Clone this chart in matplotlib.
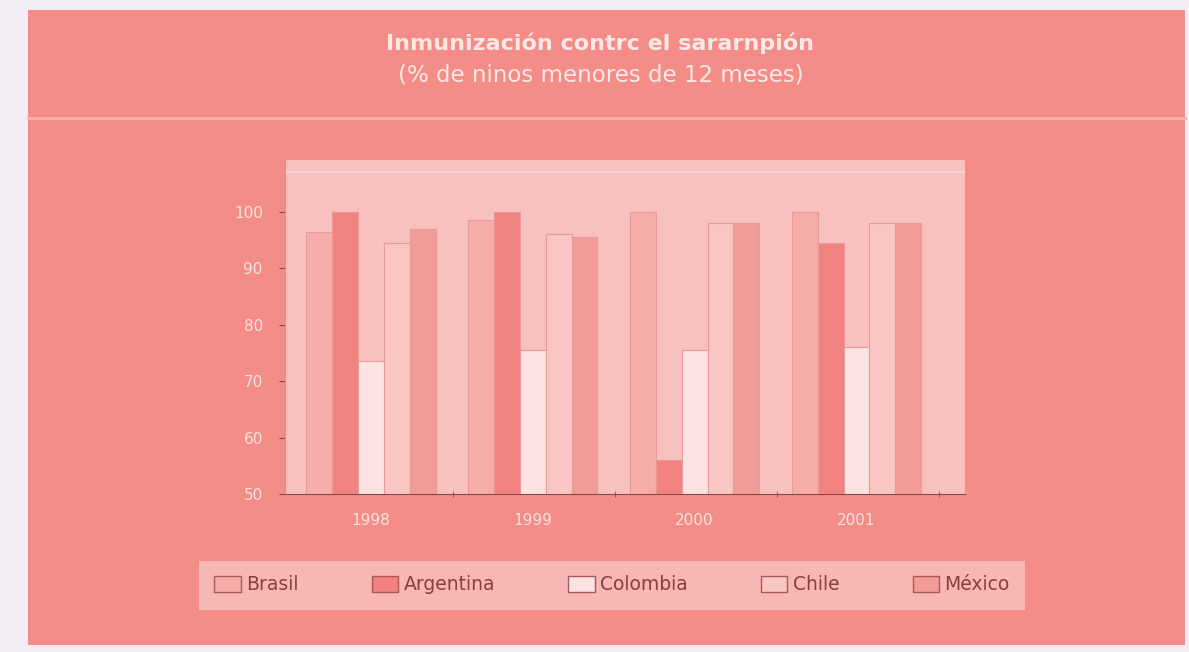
import numpy as np
import matplotlib
matplotlib.use("Agg")
import matplotlib.pyplot as plt
from matplotlib.patches import Rectangle, Patch

years = ["1998", "1999", "2000", "2001"]
countries = ["Brasil", "Argentina", "Colombia", "Chile", "México"]
brasil = [96.5, 98.5, 100, 100]
argentina = [100, 100, 56, 94.5]
colombia = [73.5, 75.5, 75.5, 76]
chile = [94.5, 96, 98, 98]
mexico = [97, 95.5, 98, 98]
series = [brasil, argentina, colombia, chile, mexico]
colors = ["#f6aca8", "#f2827f", "#fbe3e2", "#f9c6c3", "#f29c97"]

bg = "#f48c88"
fig = plt.figure(figsize=(11.89, 6.52), dpi=100)
fig.patch.set_facecolor("#f3eef5")

# main panel and header
fig.add_artist(Rectangle((28 / 1189, 7 / 652), 1157 / 1189, 635 / 652, zorder=-10,
                         transform=fig.transFigure, facecolor=bg, edgecolor="none"))
fig.add_artist(plt.Line2D([28 / 1189, 1185 / 1189], [1 - 118 / 652, 1 - 118 / 652],
                          transform=fig.transFigure, color="#fbb2ae", lw=2, zorder=-5))
fig.text(0.505, 1 - 43 / 652, "Inmunización contrc el sararnpión", ha="center", va="center",
         color="#fde8e6", fontsize=16, fontweight="bold", family="DejaVu Sans")
fig.text(0.505, 1 - 75 / 652, "(% de ninos menores de 12 meses)", ha="center", va="center",
         color="#fde8e6", fontsize=16.5, family="DejaVu Sans")

ax = fig.add_axes([285 / 1189, 158 / 652, 680 / 1189, 334 / 652])
ax.set_facecolor("#f8c0bf")
# back wall top edge
ax.axhline(107, color="#fbd3d2", lw=1.5, zorder=1)
x = np.arange(len(years))
w = 0.16
for i, (name, vals) in enumerate(zip(countries, series)):
    ax.bar(x + (i - 2) * w, vals, width=w, color=colors[i], edgecolor="#e99a96",
           linewidth=0.8, label=name, zorder=2)

ax.set_xlim(-0.53, 3.67)
ax.set_ylim(50, 109.2)
ax.set_yticks([50, 60, 70, 80, 90, 100])
ax.set_xticks(x)
ax.set_xticklabels(years)
ax.set_xticks(x + 0.51, minor=True)
ax.tick_params(axis="x", which="major", length=0, pad=14, labelcolor="#fde2e0", labelsize=11)
ax.tick_params(axis="x", which="minor", length=4, color="#8a4a4a", direction="inout")
ax.tick_params(axis="y", length=4, color="#8a4a4a", labelcolor="#fde2e0", labelsize=11, pad=12)
for s in ["top", "right"]:
    ax.spines[s].set_visible(False)
ax.spines["left"].set_color("#e58a86")
ax.spines["bottom"].set_color("#8a4a4a")

handles = [Patch(facecolor=c, edgecolor="#a85858", label=n) for c, n in zip(colors, countries)]
leg = fig.legend(handles=handles, loc="center", ncol=5,
                 bbox_to_anchor=(612 / 1189, 1 - 585 / 652), frameon=True,
                 fontsize=13.5, handlelength=1.4, handleheight=0.9, handletextpad=0.3,
                 columnspacing=3.9, borderpad=0.8, fancybox=False)
leg.get_frame().set_facecolor("#f9c3c0")
leg.get_frame().set_edgecolor("none")
for t in leg.get_texts():
    t.set_color("#8a3e3e")

fig.savefig("out.png", dpi=100, facecolor=fig.get_facecolor())
